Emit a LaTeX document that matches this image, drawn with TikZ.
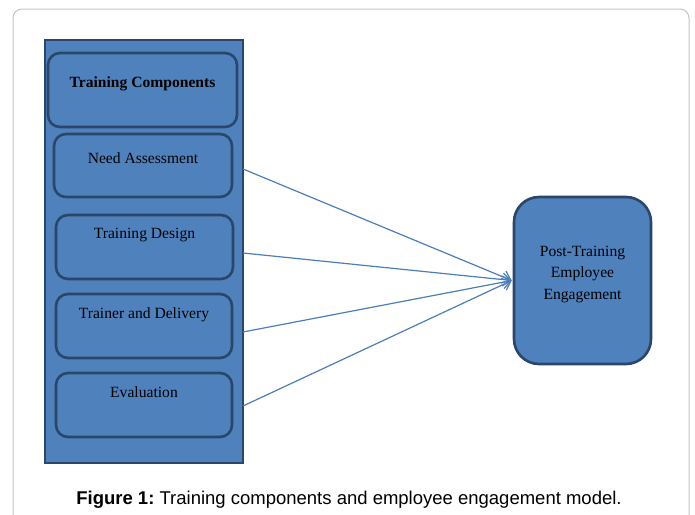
\documentclass[tikz,border=0pt]{standalone}
\usepackage{fontspec}
\setmainfont{Liberation Serif}
\newfontfamily\capfont{Liberation Sans}
\usetikzlibrary{arrows.meta,calc}
\definecolor{boxfill}{HTML}{4F81BD}
\definecolor{boxline}{HTML}{2A4669}
\definecolor{arrowcol}{HTML}{4A7EBB}
\definecolor{framecol}{HTML}{C4C4C4}
\begin{document}
\begin{tikzpicture}[x=1pt,y=-1pt,
  panel/.style={draw=boxline,fill=boxfill,line width=2.6pt},
  compbox/.style={draw=boxline,fill=boxfill,line width=2.6pt,rounded corners=12pt},
  boxtext/.style={font=\fontsize{15.6}{21.5}\selectfont,text=black,align=center,inner sep=0pt},
  link/.style={draw=arrowcol,line width=1.2pt,-{Straight Barb[length=8pt,width=13pt,line width=1.2pt]}}]
  \useasboundingbox (0,0) rectangle (695,514);
  % page frame
  \draw[framecol,line width=1pt,rounded corners=9pt] (13,9) rectangle (689,540);
  % left panel with the component boxes
  \path[panel] (45,40) rectangle (243,463);
  \path[compbox] (48,53) rectangle (237,127);
  \node[boxtext,font=\fontsize{15.6}{21.5}\selectfont\bfseries] (title) at (142.5,84) {Training Components};
  \path[compbox] (54,134) rectangle (232,197);
  \node[boxtext] (need) at (143,158) {Need Assessment};
  \path[compbox] (56,215) rectangle (233,279);
  \node[boxtext] (design) at (144.5,235.5) {Training Design};
  \path[compbox] (56,294) rectangle (232,358);
  \node[boxtext] (trainer) at (144,314.5) {Trainer and Delivery};
  \path[compbox] (56,373) rectangle (232,437);
  \node[boxtext] (eval) at (144,392.5) {Evaluation};
  % outcome box
  \node[draw=boxline,fill=boxfill,line width=2.6pt,rounded corners=25pt,
        minimum width=137pt,minimum height=167pt,inner sep=0pt] (post) at (582.5,280.5) {};
  \node[boxtext] (posttext) at (582.5,274.5) {Post-Training\\Employee\\Engagement};
  % connector start points on the panel edge
  \coordinate (s1) at (243,169);
  \coordinate (s2) at (243,253);
  \coordinate (s3) at (243,332);
  \coordinate (s4) at (243,406);
  \foreach \s in {s1,s2,s3,s4}
    \draw[link] (\s) -- ($(post.west)+(-1,0)$);
  % caption
  \node[font=\capfont\fontsize{18.5}{22}\selectfont,inner sep=0pt] (caption) at (349,500)
    {\textbf{Figure 1:}\ Training components and employee engagement model.};
\end{tikzpicture}
\end{document}
